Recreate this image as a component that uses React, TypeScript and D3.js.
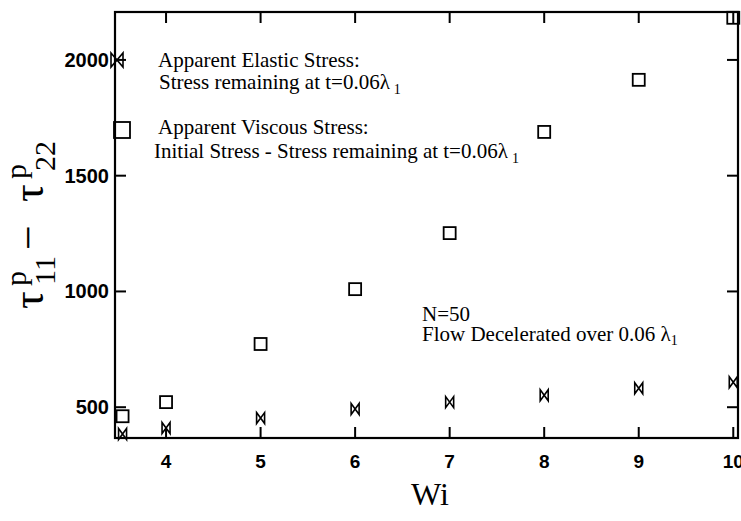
import React from "react";
import * as d3 from "d3";

const wi = [3.54, 4, 5, 6, 7, 8, 9, 10];
const viscous = [461, 522, 773, 1010, 1252, 1689, 1914, 2182];
const elastic = [384, 410, 453, 492, 522, 552, 582, 608];
const xTicks = [4, 5, 6, 7, 8, 9, 10];
const yTicks = [500, 1000, 1500, 2000];

const W = 741, H = 521;
const M = { left: 115, right: 738, top: 12, bottom: 438 };

const serif = "'Liberation Serif', 'Times New Roman', serif";
const sans = "'Liberation Sans', Arial, sans-serif";

function bowtie(w: number, h: number) {
  return `M${-w},${-h}L${w},${h}L${w},${-h}L${-w},${h}Z`;
}

export default function App() {
  const x = d3.scaleLinear().domain([3.46, 10.05]).range([M.left, M.right]);
  const y = d3.scaleLinear().domain([367, 2207]).range([M.bottom, M.top]);
  const tl = 11;
  return (
    <svg width={W} height={H} style={{ position: "absolute", left: 0, top: 0, background: "#fff" }}>
      <rect x={0} y={0} width={W} height={H} fill="#fff" />
      {/* frame */}
      <rect x={M.left} y={M.top} width={M.right - M.left} height={M.bottom - M.top} fill="none" stroke="#000" strokeWidth={2.2} />
      {xTicks.map((t) => (
        <g key={"x" + t}>
          <line x1={x(t)} x2={x(t)} y1={M.bottom} y2={M.bottom - tl} stroke="#000" strokeWidth={2} />
          <line x1={x(t)} x2={x(t)} y1={M.top} y2={M.top + tl} stroke="#000" strokeWidth={2} />
          <text x={x(t)} y={468} textAnchor="middle" fontFamily={sans} fontWeight="bold" fontSize={19}>{t}</text>
        </g>
      ))}
      {yTicks.map((t) => (
        <g key={"y" + t}>
          <line x1={M.left} x2={M.left + tl} y1={y(t)} y2={y(t)} stroke="#000" strokeWidth={2} />
          <line x1={M.right} x2={M.right - tl} y1={y(t)} y2={y(t)} stroke="#000" strokeWidth={2} />
          <text x={109} y={y(t) + 7} textAnchor="end" fontFamily={sans} fontWeight="bold" fontSize={20}>{t}</text>
        </g>
      ))}
      {/* data */}
      {wi.map((v, i) => (
        <rect key={"s" + i} x={x(v) - 6} y={y(viscous[i]) - 6} width={12} height={12} fill="none" stroke="#000" strokeWidth={1.8} />
      ))}
      {wi.map((v, i) => (
        <path key={"b" + i} transform={`translate(${x(v)},${y(elastic[i])})`} d={bowtie(4, 5.5)} fill="none" stroke="#000" strokeWidth={1.6} />
      ))}
      {/* legend */}
      <path transform={`translate(117,60)`} d={bowtie(6, 7)} fill="none" stroke="#000" strokeWidth={1.6} />
      <rect x={114} y={122} width={16} height={16} fill="none" stroke="#000" strokeWidth={1.8} />
      <g fontFamily={serif} fontSize={21}>
        <text x={158} y={67}>Apparent Elastic Stress:</text>
        <text x={159} y={89}>Stress remaining at t=0.06λ<tspan dx={4} dy={5} fontSize={14}>1</tspan></text>
        <text x={158} y={134}>Apparent Viscous Stress:</text>
        <text x={154} y={158}>Initial Stress - Stress remaining at t=0.06λ<tspan dx={4} dy={5} fontSize={14}>1</tspan></text>
        <text x={422} y={321}>N=50</text>
        <text x={422} y={341}>Flow Decelerated over 0.06 λ<tspan dy={4} fontSize={14}>1</tspan></text>
      </g>
      {/* axis labels */}
      <text x={430} y={505} textAnchor="middle" fontFamily={serif} fontSize={32}>Wi</text>
      <g transform="translate(43,309) rotate(-90)" fontFamily={serif}>
        <text x={0} y={0} fontSize={44}>τ</text>
        <text x={23} y={-17} fontSize={30}>p</text>
        <text x={24} y={12} fontSize={30}>11</text>
        <text x={59} y={0} fontSize={44}>−</text>
        <text x={107} y={0} fontSize={44}>τ</text>
        <text x={130} y={-17} fontSize={30}>p</text>
        <text x={138} y={12} fontSize={30}>22</text>
      </g>
    </svg>
  );
}
